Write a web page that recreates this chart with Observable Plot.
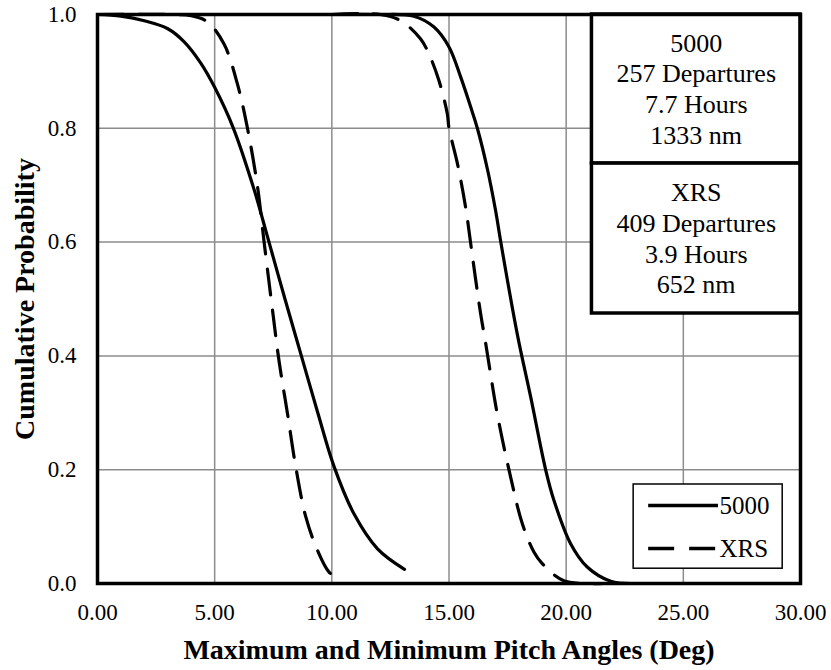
<!DOCTYPE html>
<html>
<head>
<meta charset="utf-8">
<script src="https://cdn.jsdelivr.net/npm/d3@7"></script>
<script src="https://cdn.jsdelivr.net/npm/@observablehq/plot@0.6"></script>
<style>
  html, body { margin: 0; padding: 0; background: #fff; }
  #chart { width: 831px; height: 670px; }
  #chart svg, #chart svg text { font-family: 'Liberation Serif', 'Times New Roman', serif !important; }
</style>
</head>
<body>
<div id="chart"></div>
<script>
// ---- Data ----
const xTicks = [0, 5, 10, 15, 20, 25, 30];
const yTicks = [0, 0.2, 0.4, 0.6, 0.8, 1.0];

// 5000 – minimum pitch angle (solid, left)
const min5000X = [0, 1, 2, 3, 3.7, 4.4, 5.0, 5.8, 6.7, 7.25, 8.0, 8.7, 9.4, 10.1, 10.95, 11.95, 13.1];
const min5000Y = [1.0, 0.997, 0.989, 0.975, 0.952, 0.915, 0.872, 0.80, 0.69, 0.61, 0.50, 0.40, 0.30, 0.205, 0.122, 0.061, 0.025];

// XRS – minimum pitch angle (dashed, left)
const minXrsX = [0, 3.0, 4.0, 4.69, 5.4, 5.97, 6.4, 6.83, 7.11, 7.5, 7.75, 8.11, 8.46, 8.89, 9.39, 9.88, 10.31];
const minXrsY = [1.0, 1.0, 0.998, 0.987, 0.948, 0.878, 0.80, 0.697, 0.60, 0.47, 0.39, 0.298, 0.205, 0.117, 0.058, 0.02, 0.008];

// 5000 – maximum pitch angle (solid, right)
const max5000X = [10, 12, 13.5, 14.36, 15.0, 15.5, 15.93, 16.21, 16.64, 16.99, 17.21, 17.92, 18.49, 19.13, 19.48, 20.19, 20.9, 21.9, 22.9];
const max5000Y = [1.0, 1.0, 0.997, 0.978, 0.943, 0.89, 0.837, 0.80, 0.728, 0.655, 0.60, 0.437, 0.327, 0.199, 0.146, 0.07, 0.029, 0.004, 0.0];

// XRS – maximum pitch angle (dashed, right)
const maxXrsX = [10, 12.1, 12.94, 13.79, 14.15, 14.57, 14.93, 15.0, 15.36, 15.71, 16.0, 16.35, 16.57, 17.06, 17.63, 18.13, 18.63, 18.98, 19.9, 21.6];
const maxXrsY = [1.0, 1.0, 0.989, 0.957, 0.93, 0.884, 0.825, 0.80, 0.738, 0.661, 0.575, 0.474, 0.421, 0.298, 0.187, 0.105, 0.055, 0.035, 0.005, 0.0];

// Annotation boxes
const infoLabels = ["5000\n257 Departures\n7.7 Hours\n1333 nm", "XRS\n409 Departures\n3.9 Hours\n652 nm"];
const infoBoxX = [21.1, 30];
const infoBoxY = [[0.738, 1.0], [0.4745, 0.738]];

// Legend
const legendNames = ["5000", "XRS"];
const legendBoxX = [22.88, 29.24];
const legendBoxY = [0.026, 0.174];
const legendLineX = [23.52, 26.5];
const legendLineY = [0.137, 0.0615];

const xTitle = "Maximum and Minimum Pitch Angles (Deg)";
const yTitle = "Cumulative Probability";

// ---- Build tables ----
const toRows = (xs, ys) => xs.map((x, i) => ({x, y: ys[i]}));
const solidSeries = [toRows(min5000X, min5000Y), toRows(max5000X, max5000Y)];
const dashedSeries = [toRows(minXrsX, minXrsY), toRows(maxXrsX, maxXrsY)];

const font = "Liberation Serif";
const DASH = "26,15";
const LW = 3.2;

const infoRects = infoLabels.map((t, i) => ({x1: infoBoxX[0], x2: infoBoxX[1], y1: infoBoxY[i][0], y2: infoBoxY[i][1], t}));
const legendRows = legendNames.map((n, i) => ({n, y: legendLineY[i]}));

const chart = Plot.plot({
  width: 831,
  height: 670,
  marginLeft: 97,
  marginRight: 31,
  marginTop: 14,
  marginBottom: 87,
  style: "font-family: 'Liberation Serif', serif; font-size: 23px; color: #000; background: #fff;",
  x: {domain: [0, 30]},
  y: {domain: [0, 1]},
  marks: [
    Plot.gridX(xTicks, {stroke: "#8c8c8c", strokeOpacity: 1, strokeWidth: 1.5}),
    Plot.gridY(yTicks, {stroke: "#8c8c8c", strokeOpacity: 1, strokeWidth: 1.5}),
    ...solidSeries.map(s => Plot.line(s, {x: "x", y: "y", curve: "catmull-rom", stroke: "#000", strokeWidth: LW})),
    ...dashedSeries.map(s => Plot.line(s, {x: "x", y: "y", curve: "catmull-rom", stroke: "#000", strokeWidth: LW, strokeDasharray: DASH})),
    // info boxes
    Plot.rect(infoRects, {x1: "x1", x2: "x2", y1: "y1", y2: "y2", fill: "#fff", stroke: "#000", strokeWidth: 3.5}),
    Plot.text(infoRects, {x: d => (d.x1 + d.x2) / 2, y: d => (d.y1 + d.y2) / 2 + 0.002, text: "t", fontFamily: font, fontSize: 26, lineHeight: 1.18, fill: "#000", textAnchor: "middle"}),
    // legend
    Plot.rect([0], {x1: legendBoxX[0], x2: legendBoxX[1], y1: legendBoxY[0], y2: legendBoxY[1], fill: "#fff", stroke: "#000", strokeWidth: 1.5}),
    Plot.ruleY([legendRows[0]], {y: "y", x1: legendLineX[0], x2: legendLineX[1], stroke: "#000", strokeWidth: 3.5}),
    Plot.ruleY([legendRows[1]], {y: "y", x1: legendLineX[0], x2: legendLineX[1], stroke: "#000", strokeWidth: 3.5, strokeDasharray: DASH}),
    Plot.text(legendRows, {x: legendLineX[1], y: "y", text: "n", textAnchor: "start", dx: 1, fontFamily: font, fontSize: 25, fill: "#000"}),
    // frame
    Plot.frame({stroke: "#000", strokeWidth: 3.5}),
    // axes
    Plot.axisX(xTicks, {tickFormat: d3.format(".2f"), tickSize: 0, tickPadding: 20, label: null, fontFamily: font, fontSize: 23}),
    Plot.axisY(yTicks, {tickFormat: d3.format(".1f"), tickSize: 0, tickPadding: 21, label: null, fontFamily: font, fontSize: 23}),
    Plot.text([xTitle], {frameAnchor: "bottom", dy: 67, lineAnchor: "middle", textAnchor: "middle", fontFamily: font, fontWeight: "bold", fontSize: 28, fill: "#000"}),
    Plot.text([yTitle], {frameAnchor: "left", dx: -72, rotate: -90, lineAnchor: "middle", textAnchor: "middle", fontFamily: font, fontWeight: "bold", fontSize: 28, fill: "#000"})
  ]
});
document.getElementById("chart").appendChild(chart);
</script>
</body>
</html>
